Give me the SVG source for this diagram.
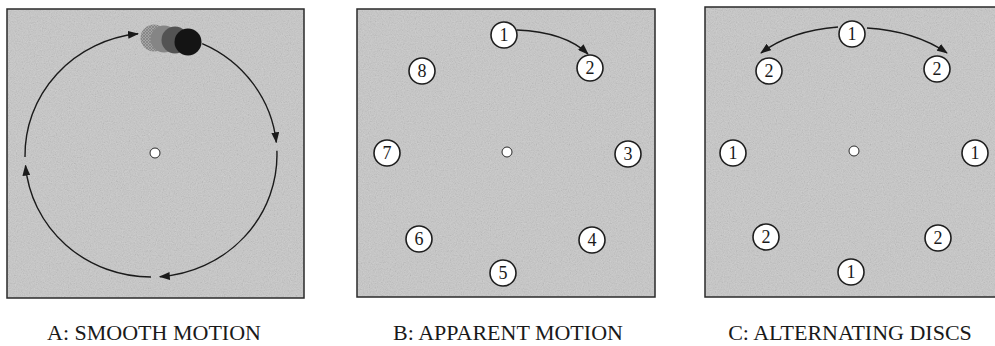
<svg xmlns="http://www.w3.org/2000/svg" width="995" height="346" viewBox="0 0 995 346">
<style>
.panel{fill:#c8c8c8;stroke:#2a2a2a;stroke-width:1.5}
.grain{filter:url(#grain);opacity:0.4}
.disc{fill:#ffffff;stroke:#1e1e1e;stroke-width:1.6}
.num{font-family:"Liberation Serif",serif;font-size:18px;fill:#1a1a1a;text-anchor:middle}
.dot{fill:#ffffff;stroke:#2a2a2a;stroke-width:1}
.conn{fill:none;stroke:#1a1a1a;stroke-width:1.4;marker-end:url(#arr)}
.label{font-family:"Liberation Serif",serif;font-size:22px;fill:#1a1a1a;text-anchor:middle}
</style>
<defs>
<marker id="arr" viewBox="0 0 11 8" refX="10" refY="4" markerWidth="11" markerHeight="8" markerUnits="userSpaceOnUse" orient="auto">
<path d="M0,0 L11,4 L0,8 Z" fill="#1a1a1a"/>
</marker>
<filter id="grain" x="0" y="0" width="100%" height="100%">
<feTurbulence type="fractalNoise" baseFrequency="0.85" numOctaves="2" seed="4"/>
<feColorMatrix type="saturate" values="0"/>
</filter>
<pattern id="hatch" width="3" height="3" patternUnits="userSpaceOnUse">
<rect width="3" height="3" fill="#a4a4a4"/>
<path d="M0,0 L3,3 M3,0 L0,3" stroke="#7c7c7c" stroke-width="0.7"/>
</pattern>
</defs>

<g id="panelA">
<rect class="panel" x="7" y="9" width="297" height="289"/>
<rect class="grain" x="8" y="10" width="295" height="287"/>
<circle class="dot" cx="155" cy="153" r="5"/>
</g>
<g id="panelB">
<rect class="panel" x="357" y="9" width="298" height="288"/>
<rect class="grain" x="358" y="10" width="296" height="286"/>
<circle class="dot" cx="507" cy="152" r="5"/>
</g>
<g id="panelC">
<rect class="panel" x="705" y="7" width="293" height="290"/>
<rect class="grain" x="706" y="8" width="291" height="288"/>
<circle class="dot" cx="854" cy="151" r="5"/>
</g>

<g id="connectors">
<path class="conn" d="M202.2,43.6 A126,122 0 0 1 276.3,142.3"/>
<path class="conn" d="M276.9,150.7 A126,122 0 0 1 159.8,276.7"/>
<path class="conn" d="M151,277 A126,122 0 0 1 25.5,165.6"/>
<path class="conn" d="M25,157.1 A126,122 0 0 1 138,33.8"/>
<path class="conn" d="M517,30 Q565,32 588,54"/>
<path class="conn" d="M838,27 Q790,31 761,53"/>
<path class="conn" d="M867,28 Q915,31 947,53"/>
</g>

<g id="smooth-disc">
<circle cx="154" cy="38" r="13.5" fill="url(#hatch)"/>
<circle cx="164" cy="39" r="13.5" fill="#858585"/>
<circle cx="175" cy="40" r="13.5" fill="#535353"/>
<circle cx="188" cy="42" r="13.5" fill="#141414"/>
</g>

<g id="B1"><circle class="disc" cx="504" cy="35" r="13"/><text class="num" x="504" y="41">1</text></g>
<g id="B2"><circle class="disc" cx="590" cy="68" r="13"/><text class="num" x="590" y="74">2</text></g>
<g id="B3"><circle class="disc" cx="628" cy="154" r="13"/><text class="num" x="628" y="160">3</text></g>
<g id="B4"><circle class="disc" cx="592" cy="240" r="13"/><text class="num" x="592" y="246">4</text></g>
<g id="B5"><circle class="disc" cx="503" cy="273" r="13"/><text class="num" x="503" y="279">5</text></g>
<g id="B6"><circle class="disc" cx="419" cy="239" r="13"/><text class="num" x="419" y="245">6</text></g>
<g id="B7"><circle class="disc" cx="387" cy="153" r="13"/><text class="num" x="387" y="159">7</text></g>
<g id="B8"><circle class="disc" cx="422" cy="71" r="13"/><text class="num" x="422" y="77">8</text></g>

<g id="C-top1"><circle class="disc" cx="852" cy="34" r="13"/><text class="num" x="852" y="40">1</text></g>
<g id="C-tl2"><circle class="disc" cx="769" cy="71" r="13"/><text class="num" x="769" y="77">2</text></g>
<g id="C-tr2"><circle class="disc" cx="937" cy="69" r="13"/><text class="num" x="937" y="75">2</text></g>
<g id="C-l1"><circle class="disc" cx="733" cy="153" r="13"/><text class="num" x="733" y="159">1</text></g>
<g id="C-r1"><circle class="disc" cx="975" cy="153" r="13"/><text class="num" x="975" y="159">1</text></g>
<g id="C-bl2"><circle class="disc" cx="766" cy="237" r="13"/><text class="num" x="766" y="243">2</text></g>
<g id="C-br2"><circle class="disc" cx="938" cy="238" r="13"/><text class="num" x="938" y="244">2</text></g>
<g id="C-b1"><circle class="disc" cx="851" cy="272" r="13"/><text class="num" x="851" y="278">1</text></g>

<g id="labels">
<text class="label" x="154" y="340">A: SMOOTH MOTION</text>
<text class="label" x="508" y="340">B: APPARENT MOTION</text>
<text class="label" x="850" y="340">C: ALTERNATING DISCS</text>
</g>
</svg>
